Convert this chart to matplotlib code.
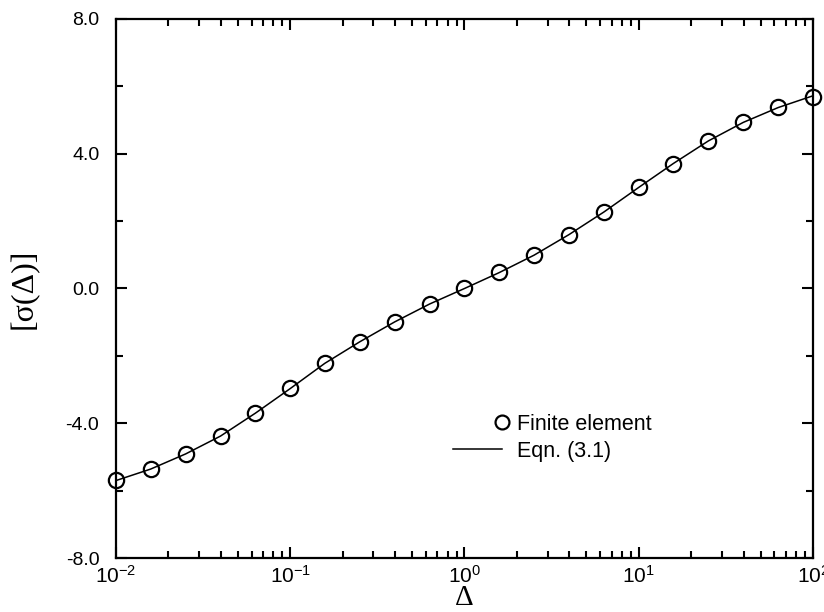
import matplotlib
matplotlib.use("Agg")
import matplotlib.pyplot as plt
import numpy as np
from matplotlib.legend_handler import HandlerLine2DCompound
from matplotlib.lines import Line2D
from matplotlib.ticker import FixedLocator, LogLocator, NullFormatter

plt.rcParams['font.family'] = ['Liberation Sans', 'DejaVu Sans']
plt.rcParams['mathtext.fontset'] = 'custom'
plt.rcParams['mathtext.rm'] = 'Liberation Sans'
plt.rcParams['mathtext.it'] = 'Liberation Sans:italic'

# data
delta = [0.01, 0.0158, 0.0251, 0.0398, 0.0631, 0.1, 0.158, 0.251, 0.398, 0.631,
         1.0, 1.58, 2.51, 3.98, 6.31, 10.0, 15.8, 25.1, 39.8, 63.1, 100.0]
sigma_fe = [-5.68, -5.35, -4.90, -4.38, -3.70, -2.96, -2.22, -1.58, -0.99, -0.46,
            0.0, 0.49, 0.99, 1.60, 2.27, 3.00, 3.71, 4.38, 4.94, 5.38, 5.68]
sigma_eqn = [-5.70, -5.36, -4.91, -4.38, -3.70, -2.97, -2.22, -1.58, -0.99, -0.46,
             0.0, 0.47, 0.99, 1.60, 2.27, 3.00, 3.71, 4.38, 4.93, 5.37, 5.72]
yticks = [-8.0, -4.0, 0.0, 4.0, 8.0]
ytick_labels = ["-8.0", "-4.0", "0.0", "4.0", "8.0"]
xticks = [1e-2, 1e-1, 1e0, 1e1, 1e2]
xtick_labels = ["$10^{-2}$", "$10^{-1}$", "$10^{0}$", "$10^{1}$", "$10^{2}$"]


class RightMarker(HandlerLine2DCompound):
    # legend marker sits at the right end of the handle, like the original
    def get_xdata(self, legend, xdescent, ydescent, width, height, fontsize):
        xdata, _ = super().get_xdata(legend, xdescent, ydescent, width, height, fontsize)
        return xdata, np.array([-xdescent + width])


fig = plt.figure(figsize=(8.24, 6.12), dpi=100)
ax = fig.add_axes([0.1408, 0.0882, 0.8458, 0.8808])

ax.plot(delta, sigma_eqn, color='black', lw=1.1, clip_on=False)
ax.plot(delta, sigma_fe, 'o', mfc='none', mec='black', ms=11, mew=1.6, clip_on=False)

ax.set_xscale('log')
ax.set_xlim(1e-2, 1e2)
ax.set_ylim(-8, 8)

ax.set_xticks(xticks)
ax.set_xticklabels(xtick_labels)
ax.xaxis.set_minor_locator(LogLocator(base=10, subs=np.arange(2, 10)))
ax.xaxis.set_minor_formatter(NullFormatter())
ax.set_yticks(yticks)
ax.set_yticklabels(ytick_labels)
ax.yaxis.set_minor_locator(FixedLocator([-6, -2, 2, 6]))

ax.tick_params(which='both', direction='in', top=True, right=True, width=1.5)
ax.tick_params(which='major', length=8)
ax.tick_params(which='minor', length=5)
ax.tick_params(axis='y', pad=12, labelsize=14)
ax.tick_params(axis='x', pad=5, labelsize=15)
for sp in ax.spines.values():
    sp.set_linewidth(1.6)

ax.set_xlabel('Δ', fontsize=21, family=['Liberation Serif', 'DejaVu Serif'], labelpad=-1)
ax.set_ylabel('[σ(Δ)]', fontsize=23, family=['Liberation Serif', 'DejaVu Serif'], labelpad=19)

h_fe = Line2D([], [], ls='none', marker='o', mfc='none', mec='black', ms=10, mew=1.6)
h_eq = Line2D([], [], color='black', lw=1.1)
ax.legend([h_fe, h_eq], ['Finite element', 'Eqn. (3.1)'],
          handler_map={h_fe: RightMarker(numpoints=1)},
          loc='upper left', bbox_to_anchor=(0.4835, 0.268), frameon=False,
          fontsize=15.5, handlelength=2.27, handletextpad=0.7, labelspacing=0.3,
          borderpad=0, borderaxespad=0)

fig.savefig('out.png', dpi=100)
